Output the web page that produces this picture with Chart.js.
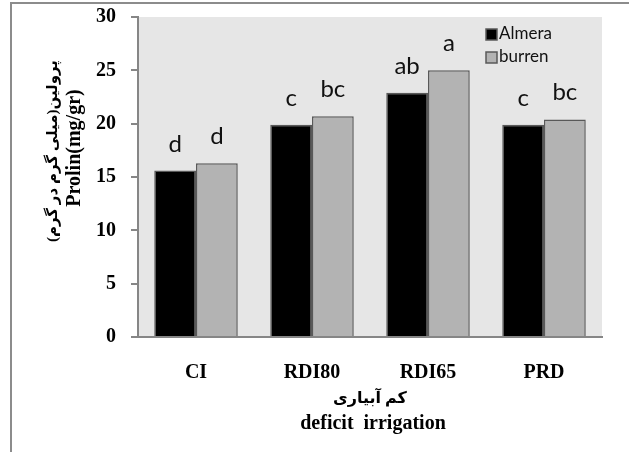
<!DOCTYPE html>
<html lang="en">

<head>
    <meta charset="UTF-8">
    <title>Prolin</title>
    <script src="https://cdn.jsdelivr.net/npm/chart.js"></script>
    <style>
        body { margin: 0; background: #fff; }
        .grafico { width: 629px; height: 452px; }
    </style>
</head>

<body>
    <div class="grafico">
        <canvas id="myChart"></canvas>
    </div>
</body>

</html>

<script>
    // dados
    var categorias = ['CI', 'RDI80', 'RDI65', 'PRD'];
    var nomesSeries = ['Almera', 'burren'];
    var almera = [15.6, 19.9, 22.9, 19.9];
    var burren = [16.3, 20.7, 25.0, 20.4];
    var letrasAlmera = ['d', 'c', 'ab', 'c'];
    var letrasBurren = ['d', 'bc', 'a', 'bc'];
    var yMin = 0, yMax = 30, yPasso = 5;
    var tituloY = ['پرولین(میلی گرم در گرم)', 'Prolin(mg/gr)'];
    var tituloX = ['کم آبیاری', 'deficit  irrigation'];

    var cores = ['#000000', '#b3b3b3'];
    var corBorda = '#595959';
    var corEixo = '#868686';
    var fonteSerif = '"Liberation Serif", "DejaVu Sans", serif';

    var fundo = {
        id: 'fundo',
        beforeDraw: function (chart) {
            var c = chart.ctx, a = chart.chartArea;
            c.save();
            c.fillStyle = '#ffffff';
            c.fillRect(0, 0, chart.width, chart.height);
            // moldura externa
            c.strokeStyle = '#8c8c8c';
            c.lineWidth = 2;
            c.beginPath();
            c.moveTo(11, chart.height);
            c.lineTo(11, 3);
            c.lineTo(chart.width, 3);
            c.stroke();
            c.fillStyle = '#e6e6e6';
            c.fillRect(a.left, a.top, a.right - a.left, a.bottom - a.top);
            c.restore();
        }
    };

    var textos = {
        id: 'textos',
        afterDraw: function (chart) {
            var c = chart.ctx, a = chart.chartArea;
            c.save();
            // letras sobre as barras
            var letras = [letrasAlmera, letrasBurren];
            c.fillStyle = '#111';
            c.font = '24px Lato';
            c.textAlign = 'center';
            c.textBaseline = 'alphabetic';
            for (var d = 0; d < 2; d++) {
                var meta = chart.getDatasetMeta(d);
                meta.data.forEach(function (bar, i) {
                    c.fillText(letras[d][i], bar.x, bar.y - 19);
                });
            }
            // legenda
            c.font = '17px Lato';
            c.textAlign = 'left';
            c.textBaseline = 'middle';
            for (var k = 0; k < nomesSeries.length; k++) {
                var lx = a.right - 116, ly = a.top + 12 + k * 23;
                c.fillStyle = cores[k];
                c.fillRect(lx, ly, 11, 11);
                c.strokeStyle = corBorda;
                c.lineWidth = 1.5;
                c.strokeRect(lx, ly, 11, 11);
                c.fillStyle = '#111';
                c.fillText(nomesSeries[k], lx + 13, ly + 5);
            }
            // titulo eixo y
            c.fillStyle = '#000';
            c.textAlign = 'center';
            c.font = 'bold 15px ' + fonteSerif;
            c.save();
            c.translate(53, 151);
            c.rotate(-Math.PI / 2);
            c.fillText(tituloY[0], 0, 0);
            c.restore();
            c.save();
            c.translate(75, 148);
            c.rotate(-Math.PI / 2);
            c.font = 'bold 20px ' + fonteSerif;
            c.fillText(tituloY[1], 0, 0);
            c.restore();
            // titulo eixo x
            var cx = (a.left + a.right) / 2;
            c.font = 'bold 16px ' + fonteSerif;
            c.fillText(tituloX[0], cx, 399);
            c.font = 'bold 20px ' + fonteSerif;
            c.fillText(tituloX[1], cx + 3, 424);
            c.restore();
        }
    };

    const ctx = document.getElementById('myChart');

    new Chart(ctx, {
        type: 'bar',
        data: {
            labels: categorias,
            datasets: [{
                label: nomesSeries[0],
                data: almera,
                backgroundColor: cores[0],
                borderColor: corBorda,
                borderWidth: 1.5
            },
            {
                label: nomesSeries[1],
                data: burren,
                backgroundColor: cores[1],
                borderColor: corBorda,
                borderWidth: 1.5
            }]
        },
        options: {
            responsive: true,
            maintainAspectRatio: false,
            animation: false,
            categoryPercentage: 0.72,
            barPercentage: 1,
            layout: { padding: { top: 17, right: 27, left: 0, bottom: 0 } },
            plugins: {
                legend: { display: false },
                tooltip: { enabled: false }
            },
            scales: {
                x: {
                    grid: { display: false, drawTicks: false },
                    border: { display: true, color: corEixo, width: 2 },
                    ticks: {
                        color: '#000',
                        padding: 24,
                        font: { family: fonteSerif, size: 20, weight: 'bold' }
                    },
                    afterFit: function (s) { s.height = 115; s.paddingLeft = 0; s.paddingRight = 0; }
                },
                y: {
                    min: yMin,
                    max: yMax,
                    grid: { drawOnChartArea: false, drawTicks: true, tickLength: 7, color: corEixo, lineWidth: 2 },
                    border: { display: true, color: corEixo, width: 2 },
                    ticks: {
                        stepSize: yPasso,
                        color: '#000',
                        padding: 15,
                        font: { family: fonteSerif, size: 20, weight: 'bold' }
                    },
                    afterFit: function (s) { s.width = 138; s.paddingTop = 0; s.paddingBottom = 0; }
                }
            }
        },
        plugins: [fundo, textos]
    });
</script>
